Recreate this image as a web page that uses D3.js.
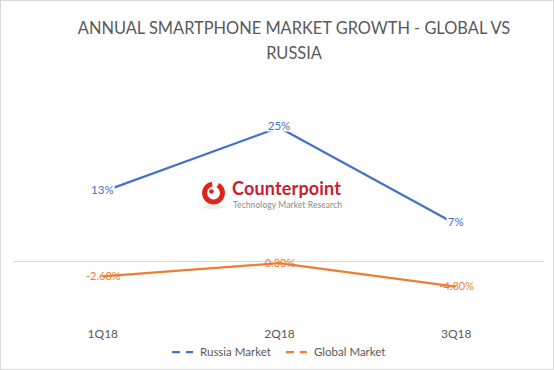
<!DOCTYPE html>
<html>
<head>
<meta charset="utf-8">
<script src="https://cdnjs.cloudflare.com/ajax/libs/d3/7.8.5/d3.min.js"></script>
<style>
  body { margin: 0; background: #fff; }
  text { font-family: Lato, "Open Sans", sans-serif; }
</style>
</head>
<body>
<svg></svg>
<script>
var width = 554;
var height = 370;

//DATA
var quarters = ["1Q18", "2Q18", "3Q18"];
var russiaValues = [13, 25, 7];
var globalValues = [-2.6, 0.3, -4.8];
var russiaLabels = ["13%", "25%", "7%"];
var globalLabels = ["-2.60%", "0.30%", "-4.80%"];
var seriesNames = ["Russia Market", "Global Market"];
var seriesColors = ["#4472c4", "#ed7d31"];

var svg = d3.select('svg')
            .attr('width', width)
            .attr('height', height);

//outer chart border
svg.append('rect')
    .attr('x', 0.5)
    .attr('y', 0.5)
    .attr('width', width - 1)
    .attr('height', height - 1)
    .attr('fill', '#fff')
    .attr('stroke', '#d9d9d9');

//TITLE
var title = svg.append('text')
    .attr('text-anchor', 'middle')
    .attr('fill', '#595959')
    .style('font-size', '16.4px');
title.append('tspan').attr('x', 294).attr('y', 34).text('ANNUAL SMARTPHONE MARKET GROWTH - GLOBAL VS');
title.append('tspan').attr('x', 294).attr('y', 59).text('RUSSIA');

//SCALES (two value axes, none of them drawn)
var x = d3.scalePoint()
          .domain(quarters)
          .range([14, 544])
          .padding(0.5);

var yRussia = d3.scaleLinear()
                .domain([0, 25])
                .range([261.5, 127.5]);

var yGlobal = d3.scaleLinear()
                .domain([-5, 0])
                .range([287.5, 264.5]);

//zero gridline
svg.append('line')
    .attr('x1', 14)
    .attr('x2', 544)
    .attr('y1', yRussia(0))
    .attr('y2', yRussia(0))
    .attr('stroke', '#d9d9d9')
    .attr('stroke-width', 1);

//LOGO (watermark)
var logo = svg.append('g').attr('transform', 'translate(213.5, 193)');
logo.append('ellipse')
    .attr('cx', 0).attr('cy', 14).attr('rx', 11).attr('ry', 2)
    .attr('fill', '#eee');
logo.append('path')
    .attr('d', d3.arc()
                 .innerRadius(6.5)
                 .outerRadius(11.5)
                 .startAngle(0.5)
                 .endAngle(2 * Math.PI - 0.15)())
    .attr('fill', '#e2231a');
logo.append('circle')
    .attr('cx', -2).attr('cy', -1.5).attr('r', 2.3)
    .attr('fill', '#e2231a');
svg.append('text')
    .attr('x', 232)
    .attr('y', 195)
    .attr('fill', '#c8202f')
    .style('font-size', '18px')
    .style('font-weight', 'bold')
    .attr('textLength', 109)
    .text('Counterpoint');
svg.append('text')
    .attr('x', 233)
    .attr('y', 208)
    .attr('fill', '#8a8a8a')
    .style('font-size', '8.5px')
    .attr('textLength', 109)
    .text('Technology Market Research');

//LINES
var russiaLine = d3.line()
                   .x((d, i) => x(quarters[i]))
                   .y(d => yRussia(d));
var globalLine = d3.line()
                   .x((d, i) => x(quarters[i]))
                   .y(d => yGlobal(d));

svg.append('path')
    .datum(globalValues)
    .attr('d', globalLine)
    .attr('fill', 'none')
    .attr('stroke', seriesColors[1])
    .attr('stroke-width', 2.25)
    .attr('stroke-linejoin', 'round');

svg.append('path')
    .datum(russiaValues)
    .attr('d', russiaLine)
    .attr('fill', 'none')
    .attr('stroke', seriesColors[0])
    .attr('stroke-width', 2.25)
    .attr('stroke-linejoin', 'round');

//DATA LABELS
//russia labels sit on a white box, the line stops at the box
var rLabels = svg.selectAll('.rlabel')
                 .data(russiaValues)
                 .enter()
                 .append('g')
                 .classed('rlabel', true)
                 .attr('transform', (d, i) => `translate(${x(quarters[i])}, ${yRussia(d) - 2})`);
rLabels.append('text')
    .attr('text-anchor', 'middle')
    .attr('dy', '0.35em')
    .attr('fill', seriesColors[0])
    .style('font-size', '11.5px')
    .text((d, i) => russiaLabels[i]);
rLabels.each(function() {
    var g = d3.select(this);
    var box = g.select('text').node().getBBox();
    g.insert('rect', 'text')
        .attr('x', box.x - 1)
        .attr('y', box.y)
        .attr('width', box.width + 2)
        .attr('height', box.height)
        .attr('fill', '#fff');
});

svg.selectAll('.glabel')
    .data(globalValues)
    .enter()
    .append('text')
    .classed('glabel', true)
    .attr('x', (d, i) => x(quarters[i]) + 1)
    .attr('y', d => yGlobal(d))
    .attr('dy', '0.35em')
    .attr('text-anchor', 'middle')
    .attr('fill', seriesColors[1])
    .style('font-size', '11px')
    .text((d, i) => globalLabels[i]);

//X AXIS LABELS (axis line hidden)
var xAxis = svg.append('g')
               .attr('transform', 'translate(0, 329)')
               .call(d3.axisBottom(x).tickSize(0).tickPadding(0));
xAxis.select('.domain').remove();
xAxis.selectAll('text')
    .attr('fill', '#595959')
    .style('font-size', '12px')
    .style('font-family', 'Lato, sans-serif');

//LEGEND
var legendX = [172, 286];
var legend = svg.selectAll('.legend')
                .data(seriesNames)
                .enter()
                .append('g')
                .classed('legend', true)
                .attr('transform', (d, i) => `translate(${legendX[i]}, 352)`);
legend.append('line')
    .attr('x1', 0)
    .attr('x2', 21)
    .attr('stroke', (d, i) => seriesColors[i])
    .attr('stroke-width', 2.25)
    .attr('stroke-dasharray', '8,6');
legend.append('text')
    .attr('x', 28)
    .attr('dy', '0.35em')
    .attr('fill', '#595959')
    .style('font-size', '11.5px')
    .text(d => d);
</script>
</body>
</html>
